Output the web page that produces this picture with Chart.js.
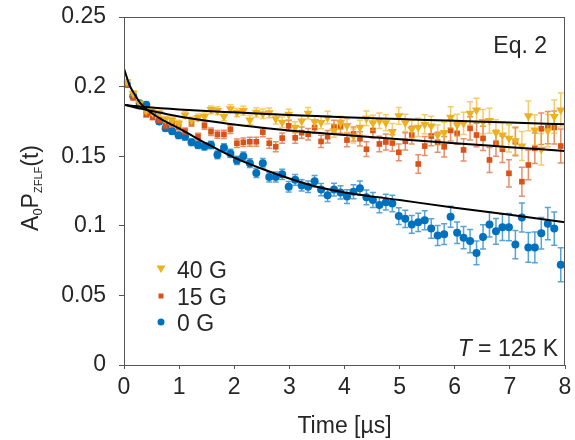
<!DOCTYPE html>
<html>
<head>
<meta charset="utf-8">
<script src="https://cdn.jsdelivr.net/npm/chart.js@4.4.1/dist/chart.umd.min.js"></script>
<style>
  html, body { margin: 0; padding: 0; background: #fff; }
  canvas { display: block; }
</style>
</head>
<body>
<canvas id="chart" width="575" height="440"></canvas>
<script>
// time bins [µs]
const times = [
  0.050, 0.168, 0.285, 0.403, 0.520, 0.638, 0.755, 0.873, 0.990, 1.108,
  1.225, 1.343, 1.460, 1.578, 1.695, 1.813, 1.930, 2.048, 2.165, 2.283,
  2.400, 2.518, 2.635, 2.753, 2.870, 2.988, 3.105, 3.223, 3.340, 3.458,
  3.575, 3.693, 3.810, 3.928, 4.045, 4.163, 4.280, 4.398, 4.515, 4.633,
  4.750, 4.868, 4.985, 5.103, 5.220, 5.338, 5.455, 5.573, 5.690, 5.808,
  5.925, 6.043, 6.160, 6.278, 6.395, 6.513, 6.630, 6.748, 6.865, 6.983,
  7.100, 7.218, 7.335, 7.453, 7.570, 7.688, 7.805, 7.923
]

const asym40G = [
  0.2035, 0.1952, 0.188, 0.1827, 0.1813, 0.1808, 0.1765, 0.176, 0.1736, 0.1796,
  0.1758, 0.1778, 0.1784, 0.1834, 0.1827, 0.1784, 0.184, 0.1813, 0.1827, 0.176,
  0.1815, 0.1805, 0.1812, 0.1768, 0.1744, 0.18, 0.1708, 0.1752, 0.1808, 0.1748,
  0.1742, 0.1778, 0.1682, 0.174, 0.172, 0.1645, 0.1707, 0.1772, 0.174, 0.1755,
  0.174, 0.1676, 0.1789, 0.174, 0.1693, 0.1707, 0.1729, 0.1717, 0.1652, 0.1669,
  0.1779, 0.1724, 0.1736, 0.1808, 0.1832, 0.1748, 0.1755, 0.1669, 0.1652, 0.1628,
  0.1611, 0.1573, 0.1789, 0.1688, 0.155, 0.1683, 0.1784, 0.1832
]

const asym15G = [
  0.201, 0.192, 0.186, 0.18, 0.178, 0.176, 0.172, 0.1736, 0.171, 0.168,
  0.174, 0.164, 0.172, 0.1676, 0.1657, 0.1657, 0.1693, 0.1593, 0.16, 0.1604,
  0.1604, 0.1673, 0.1593, 0.1568, 0.163, 0.1718, 0.1632, 0.1669, 0.1658, 0.1706,
  0.1606, 0.164, 0.1712, 0.1712, 0.1616, 0.166, 0.1625, 0.155, 0.1685, 0.1588,
  0.1602, 0.1595, 0.1528, 0.1607, 0.1652, 0.1444, 0.1573, 0.1645, 0.16, 0.1568,
  0.1685, 0.1664, 0.1545, 0.17, 0.1652, 0.1628, 0.1473, 0.1593, 0.155, 0.1377,
  0.1604, 0.1317, 0.1437, 0.1557, 0.1697, 0.1705, 0.1706, 0.1573
]

const asym0G = [
  0.202, 0.193, 0.188, 0.187, 0.181, 0.175, 0.17, 0.168, 0.165, 0.164,
  0.16, 0.158, 0.157, 0.158, 0.151, 0.156, 0.152, 0.147, 0.15, 0.145,
  0.138, 0.145, 0.135, 0.135, 0.137, 0.128, 0.133, 0.129, 0.128, 0.132,
  0.126, 0.122, 0.126, 0.124, 0.121, 0.1245, 0.127, 0.1205, 0.1185, 0.115,
  0.117, 0.116, 0.107, 0.105, 0.101, 0.1025, 0.104, 0.098, 0.093, 0.094,
  0.1065, 0.095, 0.0915, 0.089, 0.0805, 0.092, 0.101, 0.096, 0.099, 0.099,
  0.0865, 0.106, 0.0845, 0.0845, 0.0946, 0.1015, 0.098, 0.072
]

// error bar half-lengths, same bins
const errBars = [
  0.0015, 0.0016, 0.0017, 0.0018, 0.0019, 0.002, 0.002, 0.0021, 0.0022, 0.0023,
  0.0024, 0.0025, 0.0026, 0.0027, 0.0028, 0.0029, 0.003, 0.003, 0.0031, 0.0032,
  0.0033, 0.0034, 0.0035, 0.0036, 0.0037, 0.0038, 0.0039, 0.004, 0.0041, 0.0042,
  0.0044, 0.0045, 0.0046, 0.0047, 0.0049, 0.005, 0.0051, 0.0053, 0.0054, 0.0056,
  0.0057, 0.0059, 0.006, 0.0062, 0.0064, 0.0066, 0.0068, 0.007, 0.0072, 0.0074,
  0.0076, 0.0078, 0.008, 0.0083, 0.0085, 0.0087, 0.009, 0.0093, 0.0095, 0.0098,
  0.0101, 0.0104, 0.0107, 0.011, 0.0113, 0.0116, 0.0119, 0.0122
]

// fit curves (Eq. 2)
const fitTimes = [0, 0.1, 0.2, 0.3, 0.5, 0.75, 1, 1.5, 2, 2.5, 3, 3.5, 4, 5, 6, 7, 8]
const fit0G  = [0.213, 0.201, 0.194, 0.188, 0.181, 0.175, 0.17, 0.159, 0.149, 0.141, 0.134, 0.128, 0.124, 0.1185, 0.113, 0.108, 0.1025]
const fit15G = [0.187, 0.186, 0.185, 0.1842, 0.1825, 0.1805, 0.1785, 0.1755, 0.1728, 0.1705, 0.1685, 0.1668, 0.1652, 0.1622, 0.1593, 0.1565, 0.1537]
const fit40G = [0.187, 0.1865, 0.186, 0.1856, 0.185, 0.1843, 0.1836, 0.1825, 0.1815, 0.1805, 0.1796, 0.1788, 0.178, 0.1767, 0.1754, 0.1742, 0.1729]

const xTicks = [0, 1, 2, 3, 4, 5, 6, 7, 8]
const yTicks = [0, 0.05, 0.1, 0.15, 0.2, 0.25]
const yTickLabels = ['0', '0.05', '0.1', '0.15', '0.2', '0.25']

const legendLabels = ['40 G', '15 G', '0 G']

const BLUE = '#0072BD'
const ORANGE = '#D95319'
const YELLOW = '#EDB120'
const TEXT = '#262626'
const AXIS = '#555555'
const FONT = "'Liberation Sans', Arial, Helvetica, sans-serif"

const pts = (xs, ys) => xs.map((x, i) => ({ x: x, y: ys[i] }))

const fitSet = (ys) => ({
  data: pts(fitTimes, ys),
  showLine: true,
  borderColor: '#000',
  borderWidth: 2,
  pointRadius: 0,
  cubicInterpolationMode: 'monotone',
})

const markSet = (ys, color, style, radius, rotation) => ({
  data: pts(times, ys),
  showLine: false,
  backgroundColor: color,
  borderWidth: 0,
  pointStyle: style,
  pointRadius: radius,
  pointRotation: rotation,
  errors: errBars,
  errColor: color,
})

// error bars, frame, annotations, legend, y title
const extras = {
  id: 'extras',
  beforeDatasetDraw(chart, args) {
    const ds = chart.data.datasets[args.index]
    if (!ds.errors) return
    const xs = chart.scales.x, ys = chart.scales.y
    const ctx = chart.ctx
    ctx.save()
    ctx.strokeStyle = ds.errColor
    ctx.globalAlpha = 0.65
    ctx.lineWidth = 1.5
    ds.data.forEach((p, i) => {
      const px = xs.getPixelForValue(p.x)
      const top = ys.getPixelForValue(p.y + ds.errors[i])
      const bot = ys.getPixelForValue(p.y - ds.errors[i])
      ctx.beginPath()
      ctx.moveTo(px, top); ctx.lineTo(px, bot)
      ctx.moveTo(px - 3, top); ctx.lineTo(px + 3, top)
      ctx.moveTo(px - 3, bot); ctx.lineTo(px + 3, bot)
      ctx.stroke()
    })
    ctx.restore()
  },
  afterDraw(chart) {
    const ctx = chart.ctx
    const a = chart.chartArea
    ctx.save()

    // box
    ctx.strokeStyle = AXIS
    ctx.lineWidth = 1
    ctx.strokeRect(a.left + 0.5, a.top + 0.5, a.right - a.left - 1, a.bottom - a.top)

    ctx.fillStyle = TEXT
    ctx.textBaseline = 'alphabetic'

    // Eq. 2
    ctx.font = `23px ${FONT}`
    ctx.textAlign = 'right'
    ctx.fillText('Eq. 2', a.right - 18, a.top + 36)

    // T = 125 K
    const rest = ' = 125 K'
    const restW = ctx.measureText(rest).width
    ctx.fillText(rest, a.right - 7, a.bottom - 9)
    ctx.font = `italic 23px ${FONT}`
    ctx.fillText('T', a.right - 7 - restW, a.bottom - 9)

    // x title
    ctx.font = `23px ${FONT}`
    ctx.textAlign = 'center'
    ctx.fillText('Time [\u00b5s]', (a.left + a.right) / 2, 433)

    // legend
    const rows = [
      { label: legendLabels[0], color: YELLOW, shape: 'tri', y: 269 },
      { label: legendLabels[1], color: ORANGE, shape: 'sq', y: 296 },
      { label: legendLabels[2], color: BLUE, shape: 'dot', y: 322 },
    ]
    const mx = 161
    rows.forEach(r => {
      ctx.fillStyle = r.color
      ctx.beginPath()
      if (r.shape === 'tri') {
        ctx.moveTo(mx - 4.5, r.y - 3.5); ctx.lineTo(mx + 4.5, r.y - 3.5); ctx.lineTo(mx, r.y + 4)
        ctx.closePath()
      } else if (r.shape === 'sq') {
        ctx.rect(mx - 2.5, r.y - 2.5, 5, 5)
      } else {
        ctx.arc(mx, r.y, 3.5, 0, Math.PI * 2)
      }
      ctx.fill()
      ctx.fillStyle = TEXT
      ctx.textAlign = 'left'
      ctx.font = `23px ${FONT}`
      ctx.fillText(r.label, 177, r.y + 9)
    })

    // y title: A0 P ZFLF (t), rotated
    ctx.translate(38, 188)
    ctx.rotate(-Math.PI / 2)
    const parts = [
      { t: 'A', size: 23, dy: 0 },
      { t: '0', size: 13, dy: 4 },
      { t: 'P', size: 23, dy: 0 },
      { t: 'ZFLF', size: 11, dy: 4 },
      { t: '(t)', size: 23, dy: 0 },
    ]
    let total = 0
    parts.forEach(p => {
      ctx.font = `${p.size}px ${FONT}`
      p.w = ctx.measureText(p.t).width
      total += p.w
    })
    let cx = -total / 2
    ctx.textAlign = 'left'
    parts.forEach(p => {
      ctx.font = `${p.size}px ${FONT}`
      ctx.fillText(p.t, cx, p.dy)
      cx += p.w
    })

    ctx.restore()
  },
}

const ctx = document.getElementById('chart').getContext('2d')

new Chart(ctx, {
  type: 'scatter',
  data: {
    // index 0 is drawn last, so fits sit on top of the markers
    datasets: [
      fitSet(fit0G),
      fitSet(fit15G),
      fitSet(fit40G),
      markSet(asym40G, YELLOW, 'triangle', 5.2, 180),
      markSet(asym15G, ORANGE, 'rect', 4, 0),
      markSet(asym0G, BLUE, 'circle', 4, 0),
    ],
  },
  options: {
    responsive: false,
    animation: false,
    layout: {
      padding: { top: 17, right: 10, left: 0, bottom: 0 },
    },
    scales: {
      x: {
        type: 'linear',
        min: 0,
        max: 8,
        afterFit: s => { s.height = 75; s.paddingLeft = 0; s.paddingRight = 0 },
        afterBuildTicks: s => { s.ticks = xTicks.map(v => ({ value: v })) },
        border: { display: false },
        grid: { drawOnChartArea: false, drawTicks: true, tickLength: 4, color: AXIS },
        ticks: {
          color: TEXT,
          font: { family: FONT, size: 23 },
          padding: 5,
          maxRotation: 0,
          callback: v => String(v),
        },
      },
      y: {
        type: 'linear',
        min: 0,
        max: 0.25,
        afterFit: s => { s.width = 124; s.paddingTop = 0; s.paddingBottom = 0 },
        afterBuildTicks: s => { s.ticks = yTicks.map(v => ({ value: v })) },
        border: { display: false },
        grid: { drawOnChartArea: false, drawTicks: true, tickLength: 5, color: AXIS },
        ticks: {
          color: TEXT,
          font: { family: FONT, size: 23 },
          padding: 13,
          callback: (v, i) => yTickLabels[i],
        },
      },
    },
    plugins: {
      legend: { display: false },
      tooltip: { enabled: false },
    },
  },
  plugins: [extras],
})
</script>
</body>
</html>
